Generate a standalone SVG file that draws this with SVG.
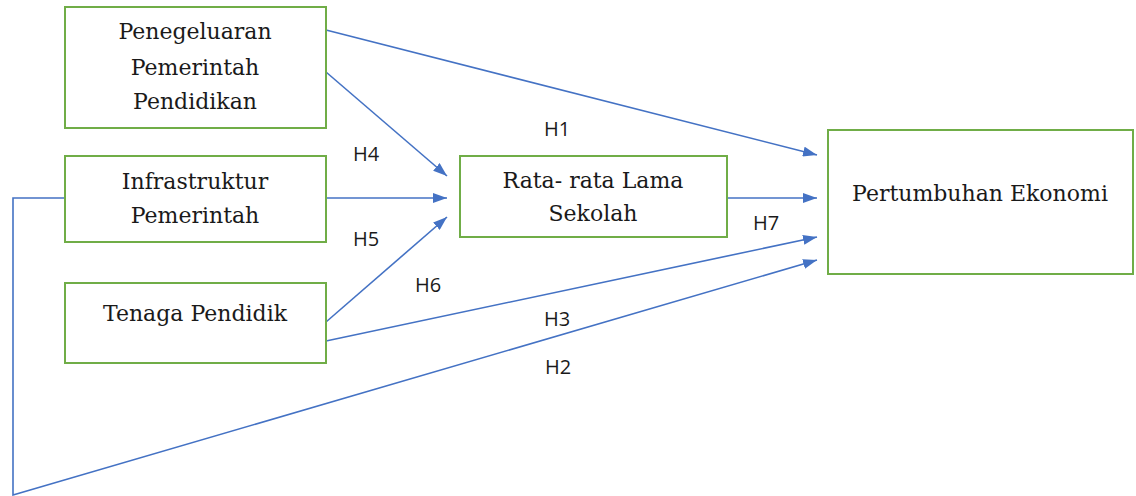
<svg xmlns="http://www.w3.org/2000/svg" width="1136" height="496" viewBox="0 0 1136 496">
<style>
.box{fill:#fff;stroke:#70AD47;stroke-width:2}
.t{font-family:"DejaVu Serif","Liberation Serif",serif;font-size:22px;fill:#1a1a1a;text-anchor:middle}
.h{font-family:"Open Sans","Liberation Sans",sans-serif;font-size:20px;fill:#1a1a1a;text-anchor:middle}
.c{fill:none;stroke:#4472C4;stroke-width:1.6}
</style>
<defs>
<marker id="ar" viewBox="0 0 14 10" refX="14" refY="5" markerWidth="14" markerHeight="10" markerUnits="userSpaceOnUse" orient="auto">
<path d="M0,0 L14,5 L0,10 Z" fill="#4472C4"/>
</marker>
</defs>
<rect width="1136" height="496" fill="#fff"/>
<g id="connectors">
<path class="c" d="M326,30 L817,155" marker-end="url(#ar)"/>
<path class="c" d="M326,72 L447,176" marker-end="url(#ar)"/>
<path class="c" d="M326,198 L447,198" marker-end="url(#ar)"/>
<path class="c" d="M326,322 L447,217" marker-end="url(#ar)"/>
<path class="c" d="M727,198 L817,198" marker-end="url(#ar)"/>
<path class="c" d="M326,341 L817,237" marker-end="url(#ar)"/>
<path class="c" d="M66,198 L13,198 L13,495 L817,260" marker-end="url(#ar)"/>
</g>
<g id="labels">
<text class="h" x="557" y="136">H1</text>
<text class="h" x="366" y="161">H4</text>
<text class="h" x="366" y="246">H5</text>
<text class="h" x="428" y="292">H6</text>
<text class="h" x="766" y="230">H7</text>
<text class="h" x="557" y="326">H3</text>
<text class="h" x="558" y="374">H2</text>
</g>
<g id="node-ppp">
<rect class="box" x="65" y="7" width="261" height="121"/>
<text class="t" x="195" y="39">Penegeluaran</text>
<text class="t" x="195" y="75">Pemerintah</text>
<text class="t" x="195" y="109">Pendidikan</text>
</g>
<g id="node-ip">
<rect class="box" x="65" y="156" width="261" height="86"/>
<text class="t" x="195" y="189">Infrastruktur</text>
<text class="t" x="195" y="223">Pemerintah</text>
</g>
<g id="node-tp">
<rect class="box" x="65" y="283" width="261" height="80"/>
<text class="t" x="195" y="321">Tenaga Pendidik</text>
</g>
<g id="node-rls">
<rect class="box" x="460" y="156" width="267" height="81"/>
<text class="t" x="593" y="188">Rata- rata Lama</text>
<text class="t" x="593" y="221">Sekolah</text>
</g>
<g id="node-pe">
<rect class="box" x="828" y="130" width="305" height="144"/>
<text class="t" x="980" y="201">Pertumbuhan Ekonomi</text>
</g>
</svg>
